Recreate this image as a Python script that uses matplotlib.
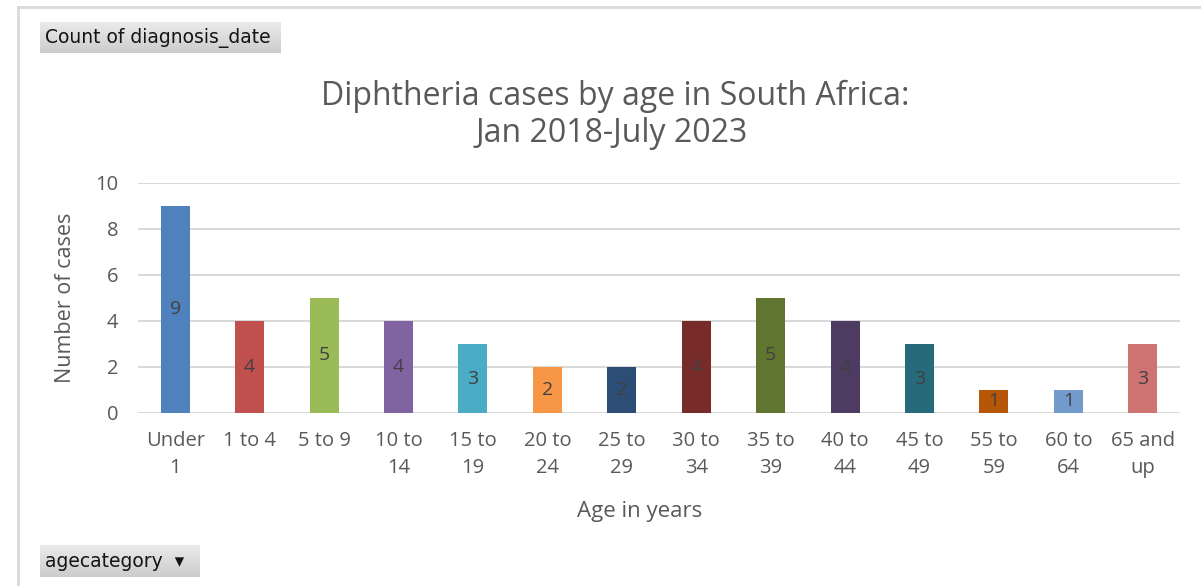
import matplotlib
matplotlib.use("Agg")
import matplotlib.pyplot as plt
import numpy as np
from matplotlib.lines import Line2D

categories = ["Under\n1", "1 to 4", "5 to 9", "10 to\n14", "15 to\n19", "20 to\n24",
              "25 to\n29", "30 to\n34", "35 to\n39", "40 to\n44", "45 to\n49",
              "55 to\n59", "60 to\n64", "65 and\nup"]
cases = [9, 4, 5, 4, 3, 2, 2, 4, 5, 4, 3, 1, 1, 3]
bar_colors = ["#4F81BD", "#C0504D", "#9BBB59", "#8064A2", "#4BACC6", "#F79646",
              "#2C4D75", "#772C2A", "#5F7530", "#4D3B62", "#276A7C", "#B65708",
              "#729ACA", "#CD7371"]
yticks = [0, 2, 4, 6, 8, 10]

FONT = ["Open Sans", "DejaVu Sans"]
TXT = "#595959"
W, H = 1201, 586

fig = plt.figure(figsize=(W / 100, H / 100), dpi=100)
fig.patch.set_facecolor("white")

def fx(px):
    return px / W

def fy(py):
    return 1 - py / H

# frame edges of the chart area
fig.add_artist(Line2D([fx(18), 1], [fy(7), fy(7)], color="#d9d9d9", lw=2))
fig.add_artist(Line2D([fx(18), fx(18)], [fy(7), 0], color="#d9d9d9", lw=2))

ax = fig.add_axes([fx(138), fy(413), fx(1180) - fx(138), fy(183) - fy(413)])
x = np.arange(len(categories))
bars = ax.bar(x, cases, width=0.39, color=bar_colors, zorder=3)
for xi, v in zip(x, cases):
    ax.text(xi, v / 2, str(v), ha="center", va="center", fontsize=14,
            color="#404040", family=FONT, zorder=4)

ax.set_xlim(-0.5, len(categories) - 0.5)
ax.set_ylim(0, 10)
ax.set_yticks(yticks)
ax.yaxis.grid(True, color="#d9d9d9", lw=1.5, zorder=0)
ax.set_axisbelow(True)
for s in ax.spines.values():
    s.set_visible(False)
ax.tick_params(axis="both", length=0, labelsize=14.5, labelcolor=TXT)
ax.tick_params(axis="y", pad=14)
ax.tick_params(axis="x", pad=13)
ax.set_xticks(x)
ax.set_xticklabels(categories, family=FONT, linespacing=1.45)
for lab in ax.get_yticklabels():
    lab.set_family(FONT)

ax.set_ylabel("Number of cases", fontsize=15.5, color=TXT, family=FONT, labelpad=14)
fig.text(fx(640), fy(511), "Age in years", ha="center", va="center",
         fontsize=16, color=TXT, family=FONT)

fig.text(fx(615), fy(96), "Diphtheria cases by age in South Africa:", ha="center",
         va="center", fontsize=23, color=TXT, family=FONT)
fig.text(fx(612), fy(134), "Jan 2018-July 2023", ha="center",
         va="center", fontsize=23, color=TXT, family=FONT)

# field buttons
grad = np.linspace(0.92, 0.80, 50).reshape(-1, 1)

def button(x0, y0, x1, y1, label):
    bax = fig.add_axes([fx(x0), fy(y1), fx(x1) - fx(x0), fy(y0) - fy(y1)])
    bax.imshow(grad, cmap="gray", vmin=0, vmax=1, aspect="auto",
               extent=[0, 1, 0, 1])
    bax.set_axis_off()
    bax.text(5 / (x1 - x0), 0.47, label, transform=bax.transAxes, ha="left",
             va="center", fontsize=13.5, color="#141414", family="DejaVu Sans")
    return bax

button(40, 22, 281, 53, "Count of diagnosis_date")
button(40, 545, 200, 577, "agecategory  \u25be")

fig.savefig("out.png", dpi=100)
